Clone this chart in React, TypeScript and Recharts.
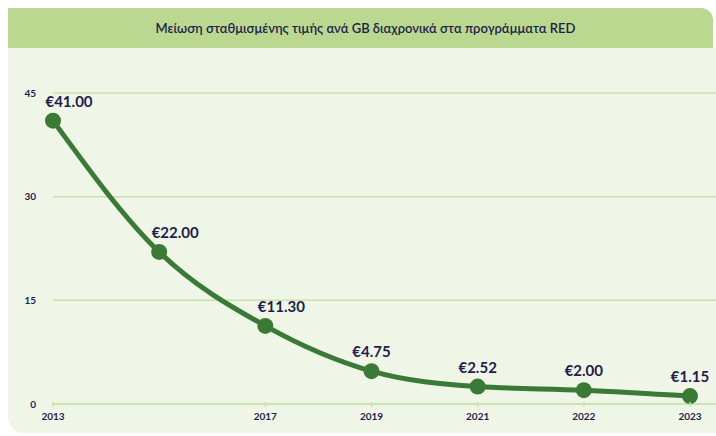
import { LineChart, Line, XAxis, YAxis, CartesianGrid, LabelList } from "recharts";

const years = ["2013", "", "2017", "2019", "2021", "2022", "2023"];
const prices = [41.0, 22.0, 11.3, 4.75, 2.52, 2.0, 1.15];
const yTicks = [0, 15, 30, 45];

const title = "Μείωση σταθμισμένης τιμής ανά GB διαχρονικά στα προγράμματα RED";

const navy = "#1f1d4d";
const green = "#3a7a36";
const gridGreen = "#c9e4a6";
const font = "Lato, 'Open Sans', sans-serif";

const data = years.map((year, i) => ({ year, price: prices[i] }));

const XTick = (props: any) => {
  const { x, y, payload } = props;
  if (!payload.value) return null;
  return (
    <g>
      <line x1={x} x2={x} y1={y - 2} y2={y + 3} stroke={gridGreen} strokeWidth={1.5} />
      <text x={x} y={y + 16} textAnchor="middle" fill={navy} fontSize={10} fontWeight={700} fontFamily={font}>
        {payload.value}
      </text>
    </g>
  );
};

const PriceLabel = (props: any) => {
  const { x, y, value, index } = props;
  // first points sit on the steep part of the curve, push their labels right
  const dx = index < 3 ? 16 : 0;
  return (
    <text x={x + dx} y={y - 14} textAnchor="middle" fill={navy} fontSize={15} fontWeight={700} fontFamily={font}>
      {"€" + Number(value).toFixed(2)}
    </text>
  );
};

export default function App() {
  return (
    <div style={{ position: "absolute", left: 0, top: 0, width: 716, height: 436, background: "#ffffff", fontFamily: font }}>
      <div
        style={{
          position: "absolute",
          left: 8,
          top: 8,
          width: 705,
          height: 40,
          background: "#bad88f",
          borderTopRightRadius: 12,
          display: "flex",
          alignItems: "center",
          justifyContent: "center",
          color: navy,
          fontSize: 13,
          fontWeight: 600,
          paddingLeft: 10,
          boxSizing: "border-box",
        }}
      >
        {title}
      </div>
      <div
        style={{
          position: "absolute",
          left: 8,
          top: 48,
          width: 708,
          height: 385,
          background: "#eff5e7",
          borderBottomLeftRadius: 16,
        }}
      />
      <div style={{ position: "absolute", left: 0, top: 0 }}>
        <LineChart width={716} height={436} data={data} margin={{ top: 93, right: 0, bottom: 8, left: 23 }}>
          <CartesianGrid vertical={false} stroke={gridGreen} strokeWidth={1.5} />
          <XAxis
            dataKey="year"
            axisLine={{ stroke: gridGreen, strokeWidth: 1.5 }}
            tickLine={false}
            tickSize={0}
            tickMargin={0}
            height={24}
            padding={{ left: 0, right: 26 }}
            tick={<XTick />}
            interval={0}
          />
          <YAxis
            domain={[0, 45]}
            ticks={yTicks}
            width={30}
            axisLine={false}
            tickLine={false}
            tickSize={0}
            tickMargin={17}
            tick={{ fill: navy, fontSize: 10, fontWeight: 700, fontFamily: font }}
          />
          <Line
            type="monotone"
            dataKey="price"
            stroke={green}
            strokeWidth={5}
            dot={{ r: 8, fill: green, stroke: green, strokeWidth: 0 }}
            activeDot={false}
            isAnimationActive={false}
          >
            <LabelList dataKey="price" content={<PriceLabel />} />
          </Line>
        </LineChart>
      </div>
    </div>
  );
}
